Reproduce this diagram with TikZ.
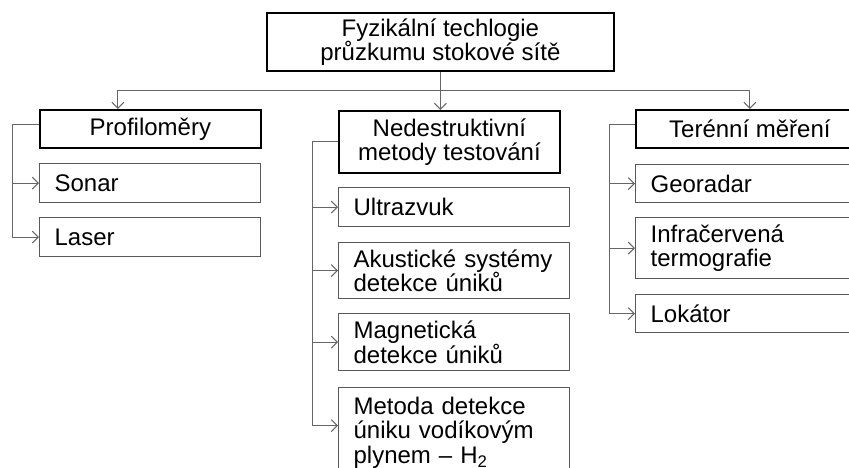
\documentclass[tikz,border=0pt]{standalone}
\usepackage{fontspec}
\setmainfont{Liberation Sans}
\usetikzlibrary{positioning,arrows.meta}

\begin{document}
\begin{tikzpicture}[x=1pt,y=-1pt,
  head/.style={draw,line width=1.8pt,anchor=north west,inner sep=0pt,
    font=\fontsize{24}{24.5}\selectfont,align=center},
  box/.style={draw=black!65,line width=1.2pt,anchor=north west,inner xsep=15pt,
    inner ysep=0pt,font=\fontsize{24}{24.5}\selectfont,align=left},
  conn/.style={draw=black!60,line width=1pt},
  tip/.style={conn,-{Straight Barb[length=6pt,width=12pt]}}]
\useasboundingbox (0,0) rectangle (849,467);
\clip (0,0) rectangle (849,467);
\node[head,minimum width=347pt,minimum height=58pt] (root) at (266,12)
  {Fyzikální techlogie\\průzkumu stokové sítě};
\node[head,minimum width=221pt,minimum height=38pt] (prof) at (39,109) {Profiloměry};
\node[head,minimum width=221pt,minimum height=62pt] (nd) at (338,110)
  {Nedestruktivní\\metody testování};
\node[head,minimum width=228pt,minimum height=38pt] (ter) at (635,109) {Terénní měření};
\node[box,text width=191pt,minimum height=39pt] (sonar) at (39,163) {Sonar};
\node[box,text width=191pt,minimum height=39pt] (laser) at (39,217) {Laser};
\node[box,text width=201pt,minimum height=39pt] (ultra) at (338,187) {Ultrazvuk};
\node[box,text width=201pt,minimum height=56pt] (akust) at (338,242)
  {Akustické systémy\\detekce úniků};
\node[box,text width=201pt,minimum height=57pt] (magn) at (338,313)
  {Magnetická\\detekce úniků};
\node[box,text width=201pt,minimum height=90pt] (vodik) at (338,387)
  {Metoda detekce\\úniku vodíkovým\\plynem – H\textsubscript{2}};
\node[box,text width=198pt,minimum height=38pt] (geo) at (635,164) {Georadar};
\node[box,text width=198pt,minimum height=61pt] (infra) at (635,217)
  {Infračervená\\termografie};
\node[box,text width=198pt,minimum height=38pt] (lok) at (635,294) {Lokátor};
\coordinate (bus) at (root.south |- 0,90);
\draw[tip] (root.south) -- (root.south |- nd.north);
\draw[tip] (bus) -| ([xshift=-32.5pt]prof.north);
\draw[tip] (bus) -| (ter.north);
\foreach \c in {sonar,laser}
  \draw[tip] ([yshift=4pt]prof.west) -- ++(-27,0) |- (\c.west);
\foreach \c in {ultra,akust,magn}
  \draw[tip] (nd.west) -- ++(-26,0) |- (\c.west);
\draw[tip] (nd.west) -- ++(-26,0) |- ([yshift=7pt]vodik.west);
\foreach \c in {geo,infra,lok}
  \draw[tip] ([yshift=4pt]ter.west) -- ++(-26,0) |- (\c.west);
\end{tikzpicture}
\end{document}
